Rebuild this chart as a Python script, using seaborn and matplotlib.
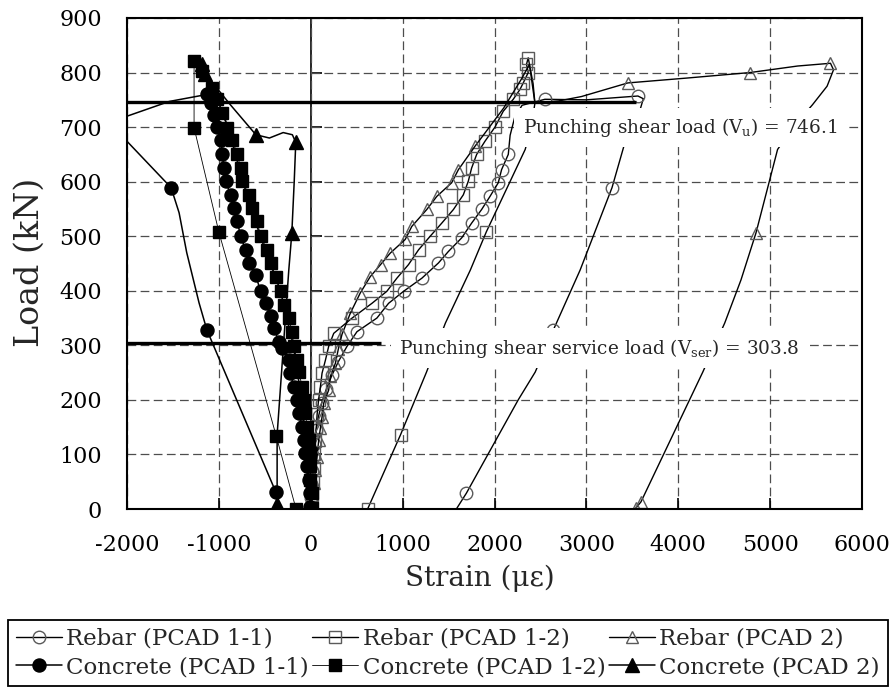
import matplotlib
matplotlib.use("Agg")
import matplotlib.pyplot as plt
import seaborn as sns

# strain (microstrain) and load (kN)
# flags: 1 = data point drawn with a marker, 0 = point on the line only

rebar11_x = [0, 3, 8, 15, 25, 40, 60, 85, 120, 170, 230, 300, 394, 503, 720, 847, 1010, 1209,
             1390, 1498, 1643, 1751, 1860, 1951, 2041, 2077, 2150,
             2170, 2220, 2300, 2548, 3000, 3561, 3620, 3590, 3450, 3398, 3279, 2932, 2640,
             2443, 2258, 1694, 1585]
rebar11_y = [0, 20, 45, 70, 95, 120, 145, 170, 195, 220, 245, 270, 298, 325, 350, 377, 399, 423,
             451, 472, 497, 524, 549, 573, 598, 622, 650,
             685, 718, 740, 751, 750, 757, 752, 735, 690, 659, 589, 438, 328,
             251, 200, 29, 0]
rebar11_m = [1] * 27 + [0, 0, 0, 1, 0, 1, 0, 0, 0, 0, 1, 0, 1, 0, 0, 1, 0]

rebar12_x = [0, 10, 20, 30, 40, 50, 60, 70, 85, 105, 123, 160, 195, 250, 450, 666, 828, 937,
             1064, 1173, 1300, 1426, 1553, 1661, 1715, 1751, 1806, 1896, 2005, 2095, 2204,
             2277, 2313, 2367, 2348, 2367,
             2420, 2440, 2400, 2334, 1911, 1737, 1466, 1260, 977, 619]
rebar12_y = [0, 25, 50, 75, 100, 125, 150, 175, 200, 224, 249, 273, 298, 322, 350, 377, 399, 423,
             448, 475, 500, 524, 549, 576, 601, 625, 650, 674, 700, 729, 751,
             769, 781, 800, 815, 827,
             780, 744, 700, 659, 508, 438, 341, 251, 136, 0]
rebar12_m = [1] * 36 + [0, 0, 0, 0, 1, 0, 0, 0, 1, 1]

rebar2_x = [0, 15, 35, 51, 69, 87, 105, 123, 141, 195, 213, 268, 300, 340, 431, 539, 648, 760,
            865, 1028, 1100, 1263, 1372, 1534, 1607, 1788,
            1900, 2100, 2300, 2380, 2440, 2700, 2946, 3452, 4100, 4781, 5300, 5657, 5690,
            5620, 5461, 5250, 5081, 4846, 4683, 4506, 4267, 3594, 3540]
rebar2_y = [0, 24, 48, 72, 96, 127, 148, 169, 194, 218, 243, 267, 293, 320, 359, 396, 426, 448,
            469, 494, 518, 549, 573, 598, 622, 665,
            690, 735, 790, 815, 744, 748, 756, 781, 790, 800, 812, 817, 805,
            775, 741, 700, 659, 506, 420, 341, 251, 13, 2]
rebar2_m = [1] * 26 + [0, 0, 0, 0, 0, 0, 0, 1, 0, 1, 0, 1, 0, 0, 0, 0, 0, 1, 0, 0, 0, 1, 1]

conc11_x = [-4, -4, -22, -40, -58, -76, -94, -130, -149, -185, -221, -239, -311, -347, -402,
            -438, -492, -546, -600, -673, -709, -763, -800, -836, -872, -926, -945, -962, -980,
            -1017, -1053, -1089, -1125,
            -1541, -2000, -2200, -2000, -1520, -1433, -1350, -1216, -1130, -380]
conc11_y = [4, 29, 53, 78, 102, 127, 151, 176, 200, 224, 249, 273, 295, 307, 332,
            353, 377, 399, 429, 451, 475, 500, 527, 552, 576, 601, 625, 650, 677,
            700, 723, 744, 760,
            747, 720, 700, 674, 589, 543, 470, 378, 328, 31]
conc11_m = [1] * 33 + [0, 0, 0, 0, 1, 0, 0, 0, 1, 1]

conc12_x = [14, 14, -4, -4, -4, -22, -40, -58, -76, -94, -130, -149, -185, -203, -239, -293,
            -329, -383, -438, -474, -546, -583, -637, -673, -746, -763, -800, -854, -908, -962,
            -1017, -1071, -1180, -1270,
            -1270, -999, -376, -160]
conc12_y = [2, 29, 53, 78, 102, 127, 151, 176, 200, 224, 252, 273, 298, 325, 350, 374,
            399, 426, 451, 475, 500, 527, 552, 576, 601, 625, 650, 677, 699, 726,
            751, 772, 802, 821,
            699, 507, 134, 0]
conc12_m = [1] * 38

conc2_x = [0, -40, -100, -190, -330, -550, -740, -900, -1060, -1180, -1150, -870, -597, -450,
           -300, -200, -163, -180, -206, -239, -366, -366, -366]
conc2_y = [0, 100, 200, 300, 400, 500, 600, 700, 770, 815, 798, 740, 686, 680,
           690, 686, 672, 600, 506, 438, 136, 10, 1]
conc2_m = [0, 0, 0, 0, 0, 0, 0, 0, 0, 1, 1, 0, 1, 0, 0, 0, 1, 0, 1, 0, 0, 1, 1]

vu_load, vu_end = 746.1, 3540
vser_load, vser_end = 303.8, 760
x_ticks = [-2000, -1000, 0, 1000, 2000, 3000, 4000, 5000, 6000]
y_ticks = [0, 100, 200, 300, 400, 500, 600, 700, 800, 900]

sns.set_theme(style="white")
plt.rcParams["font.family"] = ["DejaVu Serif"]
plt.rcParams["mathtext.fontset"] = "dejavuserif"
plt.rcParams["axes.unicode_minus"] = False

fig = plt.figure(figsize=(8.96, 6.96), dpi=100)
ax = fig.add_axes([127 / 896, 1 - 509 / 696, 735 / 896, 491 / 696])

gray = "#5a5a5a"
# label, x, y, flags, marker, face, edge, size, line width, zorder
series = [
    ("Rebar (PCAD 1-1)", rebar11_x, rebar11_y, rebar11_m, "o", "none", gray, 9.0, 1.0, 2.0),
    ("Rebar (PCAD 1-2)", rebar12_x, rebar12_y, rebar12_m, "s", "none", gray, 8.0, 1.0, 2.1),
    ("Rebar (PCAD 2)", rebar2_x, rebar2_y, rebar2_m, "^", "none", gray, 8.6, 1.0, 2.2),
    ("Concrete (PCAD 1-1)", conc11_x, conc11_y, conc11_m, "o", "black", "black", 9.4, 1.1, 2.5),
    ("Concrete (PCAD 1-2)", conc12_x, conc12_y, conc12_m, "s", "black", "black", 8.6, 0.6, 2.6),
    ("Concrete (PCAD 2)", conc2_x, conc2_y, conc2_m, "^", "black", "black", 9.4, 1.1, 2.3),
]

for label, xs, ys, flags, mk, face, edge, ms, lw, z in series:
    sns.lineplot(x=xs, y=ys, ax=ax, sort=False, estimator=None, legend=False,
                 label=label, color="black", linewidth=lw, marker=mk, markersize=ms,
                 markerfacecolor=face, markeredgecolor=edge, markeredgewidth=1.0,
                 markevery=[i for i, f in enumerate(flags) if f], zorder=z)

# punching shear reference lines
ax.hlines(vu_load, x_ticks[0], vu_end, colors="black", linewidth=2.4, zorder=4)
ax.hlines(vser_load, x_ticks[0], vser_end, colors="black", linewidth=2.4, zorder=4)

box = dict(boxstyle="square,pad=0.45", facecolor="white", edgecolor="none")
ax.text(4017, 699, "Punching shear load (V$_\\mathrm{u}$) = 746.1", fontsize=13.3,
        ha="center", va="center", bbox=box, zorder=6)
ax.text(3138, 295, "Punching shear service load (V$_\\mathrm{ser}$) = 303.8", fontsize=13.3,
        ha="center", va="center", bbox=box, zorder=6)

ax.set_xlim(x_ticks[0], x_ticks[-1])
ax.set_ylim(y_ticks[0], y_ticks[-1])
ax.set_xticks(x_ticks)
ax.set_yticks(y_ticks)
ax.set_axisbelow(True)
ax.grid(True, color="#4d4d4d", linestyle=(0, (7, 3.5)), linewidth=0.9)
ax.tick_params(axis="x", direction="in", length=8, width=1.2, pad=18, labelsize=16,
               bottom=True, colors="black")
ax.tick_params(axis="y", length=0, pad=18, labelsize=16, left=True, colors="black")
for s in ax.spines.values():
    s.set_color("black")
    s.set_linewidth(1.5)

# vertical axis line crossing at zero strain
sec = ax.secondary_yaxis(0.25)
sec.set_yticks(y_ticks)
sec.tick_params(axis="y", direction="in", length=8, width=1.2, labelleft=False,
                labelright=False, colors="black")
sec.spines["left"].set_color("black")
sec.spines["left"].set_linewidth(1.2)

ax.set_xlabel("Strain (με)", fontsize=20, va="center")
ax.xaxis.set_label_coords(0.480, -0.1405)
ax.set_ylabel("Load (kN)", fontsize=24, va="center")
ax.yaxis.set_label_coords(-0.132, 0.503)

handles, labels = ax.get_legend_handles_labels()
order = [0, 3, 1, 4, 2, 5]
leg = fig.legend([handles[i] for i in order], [labels[i] for i in order],
                 loc="center", bbox_to_anchor=(8 / 896, 7 / 696, 880 / 896, 72 / 696),
                 mode="expand", ncol=3, fontsize=16.5, numpoints=1, handlelength=2.0,
                 handletextpad=0.2, columnspacing=0.2, borderpad=0.35, labelspacing=0.3,
                 frameon=True, fancybox=False, edgecolor="black", framealpha=1,
                 borderaxespad=0)
leg.get_frame().set_linewidth(1.3)

fig.savefig("out.png", dpi=100)
